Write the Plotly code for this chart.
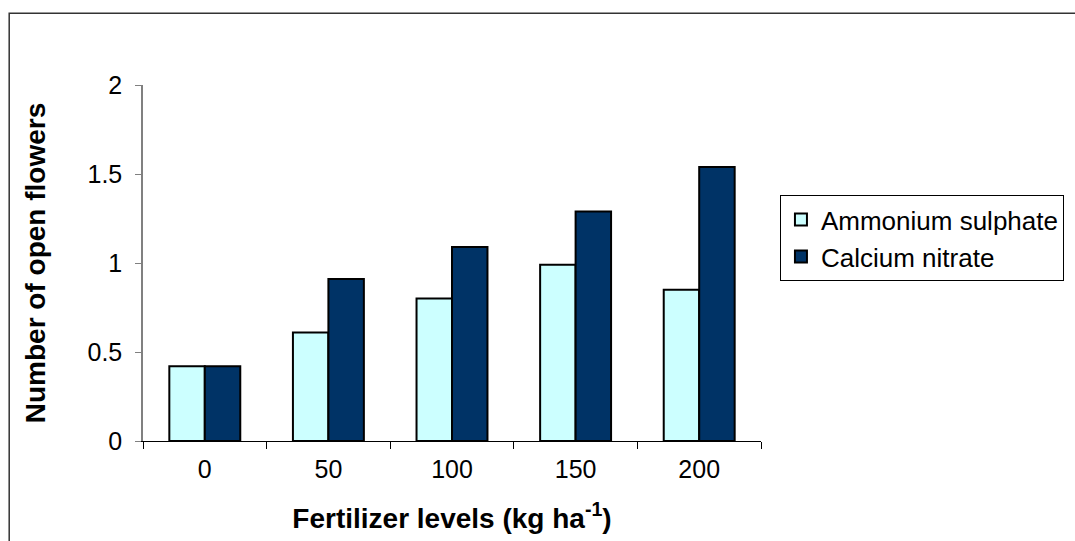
import plotly.graph_objects as go

categories = ["0", "50", "100", "150", "200"]
ammonium_sulphate = [0.42, 0.61, 0.80, 0.99, 0.85]
calcium_nitrate = [0.42, 0.91, 1.09, 1.29, 1.54]
y_ticks = [0, 0.5, 1, 1.5, 2]
y_tick_labels = ["0", "0.5", "1", "1.5", "2"]

FONT = "Liberation Sans, Arial, sans-serif"

fig = go.Figure()
fig.add_trace(go.Bar(
    x=categories, y=ammonium_sulphate, name="Ammonium sulphate",
    marker=dict(color="#CCFFFF", line=dict(color="black", width=2)),
))
fig.add_trace(go.Bar(
    x=categories, y=calcium_nitrate, name="Calcium nitrate",
    marker=dict(color="#003366", line=dict(color="black", width=2)),
))

fig.update_layout(
    width=1075, height=541,
    margin=dict(l=143, r=313, t=85, b=100),
    paper_bgcolor="white", plot_bgcolor="white",
    barmode="group", bargap=0.426, bargroupgap=0,
    font=dict(family=FONT, color="black", size=25),
    showlegend=True,
    legend=dict(
        x=1.029, y=0.6904, xanchor="left", yanchor="top",
        bordercolor="black", borderwidth=1, bgcolor="white",
        font=dict(size=26, family=FONT, color="black"),
        itemwidth=30,
    ),
    shapes=[dict(
        type="rect", xref="paper", yref="paper",
        x0=-0.2165, x1=2.5, y0=-0.5, y1=1.2012,
        line=dict(color="#333333", width=1.5), fillcolor="rgba(0,0,0,0)",
        layer="below",
    )],
)

fig.update_xaxes(
    type="category",
    showline=True, linecolor="black", linewidth=1,
    ticks="outside", tickson="boundaries", ticklen=7, tickcolor="black",
    tickfont=dict(size=25, family=FONT), ticklabelstandoff=6,
    showgrid=False,
    title=dict(text="<b>Fertilizer levels (kg ha<sup>-1</sup>)</b>", font=dict(size=28, family=FONT), standoff=26),
)
fig.update_yaxes(
    range=[0, 2], tickvals=y_ticks, ticktext=y_tick_labels,
    showline=True, linecolor="#808080", linewidth=1.5,
    ticks="outside", ticklen=6, tickcolor="#808080",
    tickfont=dict(size=25, family=FONT), ticklabelstandoff=8,
    showgrid=False, zeroline=False,
    title=dict(text="<b>Number of open flowers</b>", font=dict(size=28, family=FONT), standoff=34),
)

fig.write_html("out.html")
